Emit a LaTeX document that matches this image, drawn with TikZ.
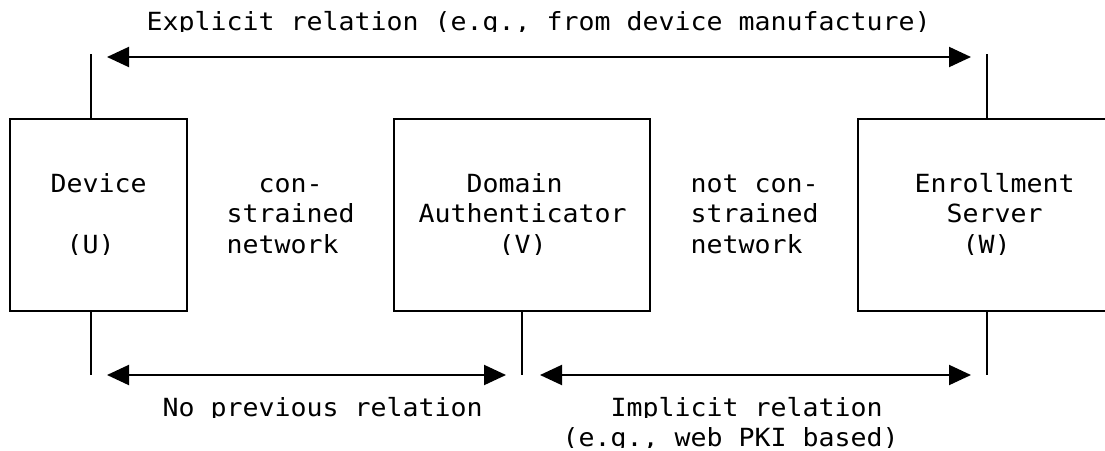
\documentclass[tikz,border=0pt]{standalone}
\usepackage{fontspec}
\newfontfamily\monofnt[FakeStretch=1.063]{DejaVu Sans Mono}
\usetikzlibrary{arrows.meta}
\newcommand\cliptext[4]{%
  \begin{scope}
    \clip (#2-6,#3-32) rectangle (#2+900,#3+1);
    \node[txt] (#1) at (#2,#3) {#4};
  \end{scope}}
\begin{document}
\begin{tikzpicture}[x=1pt,y=-1pt,
  box/.style={draw,line width=2pt,inner sep=0pt,rectangle},
  txt/.style={anchor=base west,inner sep=0pt,font=\monofnt\fontsize{25}{30}\selectfont},
  tick/.style={line width=1.3pt},
  rel/.style={line width=2pt,{Triangle[length=22pt,width=20pt]}-{Triangle[length=22pt,width=20pt]}}]
\fill[white] (0,0) rectangle (1105,450);
\useasboundingbox (0,0) rectangle (1105,450);

% boxes
\node[box,minimum width=177pt,minimum height=192pt] (dev) at (98.5,215) {};
\node[box,minimum width=256pt,minimum height=192pt] (dom) at (522,215) {};
\node[box,minimum width=257pt,minimum height=192pt] (enr) at (986.5,215) {};

% texts
\cliptext{top}{146.4}{30}{Explicit relation (e.g., from device manufacture)}
\cliptext{devA}{50.4}{192}{Device}
\cliptext{devB}{66.4}{253}{(U)}
\cliptext{cnA}{258.4}{192}{con-}
\cliptext{cnB}{226.4}{222.5}{strained}
\cliptext{cnC}{226.4}{253}{network}
\cliptext{domA}{466.4}{192}{Domain}
\cliptext{domB}{418.4}{222.5}{Authenticator}
\cliptext{domC}{498.4}{253}{(V)}
\cliptext{ncA}{690.4}{192}{not con-}
\cliptext{ncB}{690.4}{222.5}{strained}
\cliptext{ncC}{690.4}{253}{network}
\cliptext{enrA}{914.4}{192}{Enrollment}
\cliptext{enrB}{946.4}{222.5}{Server}
\cliptext{enrC}{962.4}{253}{(W)}
\cliptext{noA}{162.4}{416}{No previous relation}
\cliptext{imA}{610.4}{416}{Implicit relation}
\cliptext{imB}{562.4}{446}{(e.g., web PKI based)}

% ticks
\coordinate (ut) at (91,54);
\coordinate (wt) at (987,54);
\coordinate (ub) at (91,375);
\coordinate (vb) at (522,375);
\coordinate (wb) at (987,375);
\draw[tick] (ut) -- (ut |- dev.north);
\draw[tick] (wt) -- (wt |- enr.north);
\draw[tick] (ub |- dev.south) -- (ub);
\draw[tick] (vb |- dom.south) -- (vb);
\draw[tick] (wb |- enr.south) -- (wb);

% relation arrows
\coordinate (a1) at (107,57);
\coordinate (a2) at (971,57);
\coordinate (b1) at (107,375);
\coordinate (b2) at (506,375);
\coordinate (c1) at (540,375);
\coordinate (c2) at (971,375);
\draw[rel] (a1) -- (a2);
\draw[rel] (b1) -- (b2);
\draw[rel] (c1) -- (c2);
\end{tikzpicture}
\end{document}
